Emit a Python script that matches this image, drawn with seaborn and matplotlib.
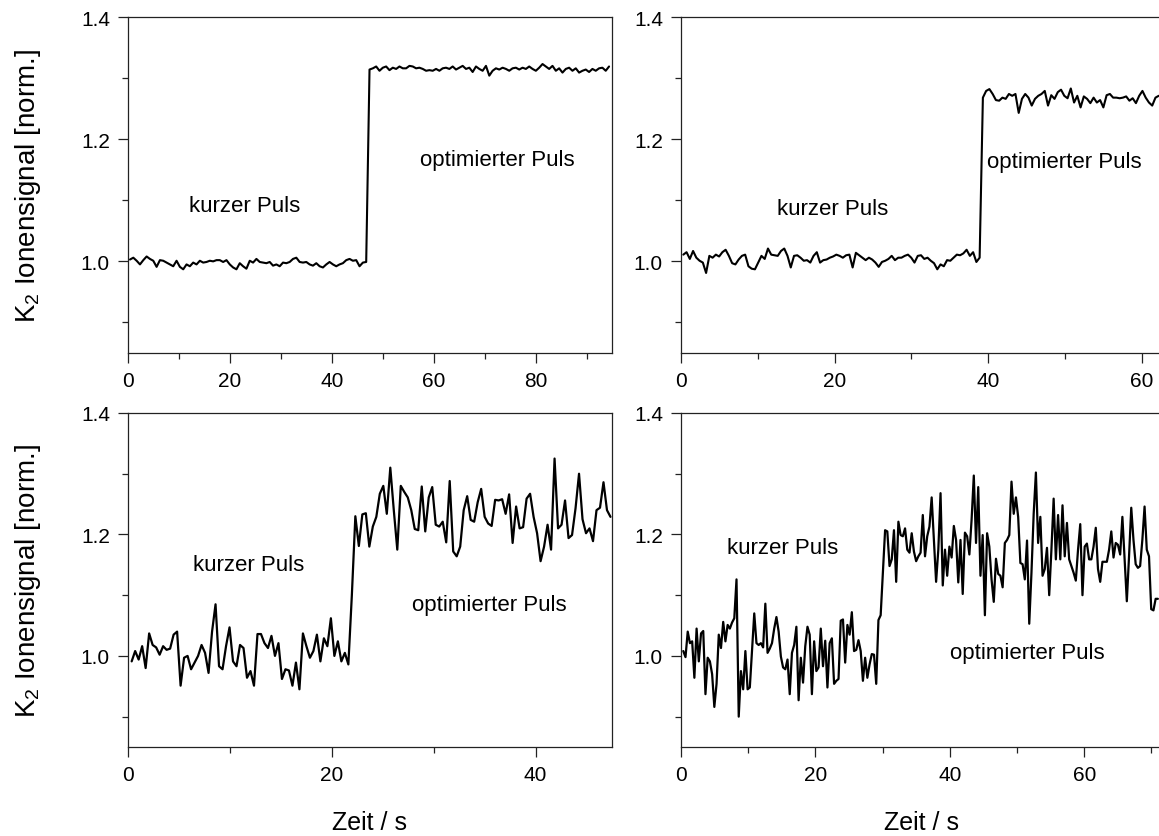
import numpy as np
import matplotlib
matplotlib.use("Agg")
import matplotlib.pyplot as plt
from matplotlib.ticker import MultipleLocator, FixedLocator
import pandas as pd
import seaborn as sns

# ---------------- data ----------------
# top-left panel: sampling start / interval [s]
tl_t0, tl_dt = 0.39, 0.653
tl_signal = [
    1.003, 1.006, 1.001, 0.995, 1.002, 1.008, 1.004, 1.001, 0.991, 1.002,
    1.001, 0.998, 0.995, 0.992, 1.001, 0.991, 0.987, 0.995, 0.992, 0.998,
    0.995, 1.001, 0.998, 0.999, 1.001, 1.000, 1.002, 1.002, 0.999, 1.002,
    0.995, 0.990, 0.987, 0.997, 0.992, 0.988, 1.001, 0.998, 1.004, 0.999,
    0.998, 0.997, 0.999, 0.993, 0.995, 0.992, 0.998, 0.997, 0.999, 1.004,
    1.006, 0.999, 0.998, 0.999, 0.995, 0.993, 0.997, 0.992, 0.990, 0.995,
    0.999, 0.995, 0.992, 0.995, 0.997, 1.002, 1.004, 1.001, 1.002, 0.992,
    0.998, 0.999,
    1.314, 1.316, 1.319, 1.312, 1.317, 1.319, 1.313, 1.317, 1.315, 1.319,
    1.316, 1.316, 1.320, 1.319, 1.316, 1.317, 1.315, 1.312, 1.313, 1.312,
    1.315, 1.312, 1.316, 1.317, 1.315, 1.319, 1.314, 1.317, 1.320, 1.315,
    1.317, 1.310, 1.319, 1.315, 1.312, 1.320, 1.304, 1.312, 1.316, 1.314,
    1.317, 1.315, 1.312, 1.316, 1.317, 1.314, 1.317, 1.315, 1.319, 1.315,
    1.312, 1.317, 1.323, 1.319, 1.315, 1.320, 1.312, 1.316, 1.309, 1.315,
    1.317, 1.312, 1.316, 1.309, 1.312, 1.314, 1.310, 1.315, 1.312, 1.316,
    1.317, 1.312, 1.319,
]

# top-right panel
tr_t0, tr_dt = 0.3, 0.424
tr_signal = [
    1.011, 1.015, 1.004, 1.017, 1.006, 1.001, 0.998, 0.981, 1.009, 1.006,
    1.011, 1.008, 1.015, 1.019, 1.009, 0.997, 0.995, 1.003, 1.009, 1.011,
    0.992, 0.988, 0.987, 0.998, 1.009, 1.004, 1.021, 1.011, 1.010, 1.009,
    1.017, 1.021, 1.009, 0.990, 1.009, 1.010, 1.006, 1.001, 1.002, 0.998,
    1.009, 1.015, 0.998, 1.002, 1.003, 1.006, 1.008, 1.011, 1.009, 1.006,
    1.010, 1.011, 0.990, 1.014, 1.010, 1.006, 1.002, 1.006, 1.003, 0.998,
    0.991, 0.999, 1.001, 1.004, 1.009, 1.002, 1.006, 1.006, 1.009, 1.011,
    1.006, 0.998,
    1.009, 1.010, 1.004, 1.006, 1.001, 0.997, 0.987, 0.995, 0.992, 1.002,
    1.001, 1.006, 1.011, 1.010, 1.013, 1.019, 1.009, 1.015, 0.999, 1.006,
    1.268, 1.279, 1.282, 1.274, 1.264, 1.263, 1.268, 1.266, 1.274, 1.271,
    1.274, 1.243, 1.266, 1.274, 1.268, 1.255, 1.266, 1.271, 1.274, 1.279,
    1.255, 1.272, 1.266, 1.277, 1.281, 1.271, 1.267, 1.283, 1.260, 1.271,
    1.252, 1.270, 1.266, 1.259, 1.268, 1.260, 1.264, 1.252, 1.272, 1.274,
    1.268, 1.268, 1.267, 1.268, 1.270, 1.263, 1.267, 1.259, 1.271, 1.279,
    1.268, 1.260, 1.255, 1.268, 1.271,
]

# bottom-left panel
bl_t0, bl_dt = 0.36, 0.343
bl_signal = [
    0.991, 1.008, 0.994, 1.016, 0.980, 1.037, 1.018, 1.014, 1.002, 1.016,
    1.010, 1.012, 1.035, 1.040, 0.951, 0.997, 1.000, 0.978, 0.989, 1.000,
    1.018, 1.005, 0.972, 1.040, 1.085, 0.983, 0.978, 1.016, 1.047, 0.991,
    0.983, 1.018, 1.013, 0.964, 0.975, 0.951, 1.036, 1.036, 1.021, 1.013,
    1.033, 1.000, 1.021, 0.962, 0.978, 0.976, 0.951, 0.989, 0.945, 1.037,
    1.016, 0.997, 1.008, 1.035, 0.991, 1.029, 1.016, 1.062, 1.000, 1.024,
    0.991, 1.005, 0.986, 1.100, 1.230, 1.181, 1.233, 1.235, 1.180,
    1.213, 1.229, 1.267, 1.280, 1.234, 1.310, 1.240, 1.175, 1.280, 1.270,
    1.261, 1.240, 1.209, 1.207, 1.279, 1.205, 1.261, 1.278, 1.216, 1.213,
    1.221, 1.187, 1.288, 1.172, 1.164, 1.180, 1.240, 1.263, 1.224, 1.221,
    1.253, 1.275, 1.229, 1.218, 1.214, 1.257, 1.256, 1.258, 1.234, 1.266,
    1.186, 1.246, 1.210, 1.212, 1.259, 1.267, 1.229, 1.202, 1.156, 1.180,
    1.216, 1.175, 1.325, 1.210, 1.216, 1.256, 1.194, 1.199, 1.243, 1.300,
    1.225, 1.202, 1.210, 1.189, 1.240, 1.244, 1.286, 1.240, 1.229,
]

# bottom-right panel
br_t0, br_dt = 0.34, 0.33
br_signal = [
    1.008, 0.998, 1.040, 1.021, 1.024, 0.964, 1.045, 0.991, 1.037, 1.041,
    0.937, 0.997, 0.991, 0.970, 0.916, 0.954, 1.035, 1.013, 1.056, 1.024,
    1.051, 1.045, 1.055, 1.062, 1.126, 0.900, 0.975, 0.945, 1.008, 0.945,
    0.948, 1.008, 1.070, 1.021, 1.018, 1.021, 1.014, 1.086, 1.005, 1.012,
    1.021, 1.045, 1.064, 1.040, 0.999, 0.981, 0.978, 0.994, 0.937, 1.005,
    1.018, 1.048, 0.927, 0.997, 0.956, 1.016, 1.048, 1.035, 0.937, 1.024,
    0.975, 0.981, 1.045, 0.983, 1.025, 0.948, 1.021, 1.029, 0.954, 0.959,
    0.962, 1.058, 1.060, 0.989, 1.051, 1.035, 1.072, 1.008, 1.010, 1.026,
    1.008, 0.959, 0.997, 0.964, 0.986, 1.003, 1.002, 0.954, 1.059, 1.067,
    1.137, 1.207, 1.205, 1.148, 1.159, 1.207, 1.122, 1.221, 1.199, 1.197,
    1.210, 1.175, 1.170, 1.202, 1.172, 1.156, 1.164, 1.170, 1.232,
    1.164, 1.197, 1.213, 1.261, 1.191, 1.122, 1.175, 1.268, 1.116, 1.175,
    1.132, 1.180, 1.162, 1.214, 1.191, 1.121, 1.191, 1.102, 1.203, 1.197,
    1.167, 1.224, 1.297, 1.186, 1.278, 1.132, 1.199, 1.067, 1.202, 1.180,
    1.126, 1.089, 1.160, 1.135, 1.132, 1.113, 1.186, 1.191, 1.199, 1.287,
    1.234, 1.261, 1.229, 1.153, 1.151, 1.126, 1.190, 1.053, 1.137, 1.234,
    1.302, 1.186, 1.229, 1.132, 1.143, 1.178, 1.100, 1.175, 1.259, 1.159,
    1.232, 1.159, 1.248, 1.164, 1.219, 1.159, 1.148, 1.137, 1.124, 1.175,
    1.217, 1.100, 1.180, 1.185, 1.159, 1.159, 1.180, 1.211, 1.143, 1.122,
    1.155, 1.155, 1.155, 1.175, 1.205, 1.162, 1.186, 1.183, 1.167, 1.229,
    1.159, 1.090, 1.164, 1.244, 1.191, 1.151, 1.145, 1.148, 1.191, 1.246,
    1.175, 1.164, 1.077, 1.075, 1.094, 1.094,
]

x_tick_labels = ["0", "20", "40", "60", "80"]
y_tick_labels = ["1.0", "1.2", "1.4"]
label_short = "kurzer Puls"
label_opt = "optimierter Puls"
x_title = "Zeit / s"
y_title = "K$_\\mathregular{2}$ Ionensignal [norm.]"

# ---------------- style ----------------
sns.set_theme(style="ticks")
plt.rcParams['font.family'] = ['Liberation Sans', 'DejaVu Sans']
plt.rcParams['mathtext.fontset'] = 'custom'
plt.rcParams['mathtext.rm'] = 'Liberation Sans'
plt.rcParams['mathtext.it'] = 'Liberation Sans:italic'
plt.rcParams['text.color'] = 'black'
plt.rcParams['xtick.labelcolor'] = 'black'
plt.rcParams['ytick.labelcolor'] = 'black'

W, H = 1159, 837
fig = plt.figure(figsize=(W / 100, H / 100), dpi=100)
fig.patch.set_facecolor("white")


def px_axes(left, top, right, bottom):
    return fig.add_axes([left / W, 1 - bottom / H, (right - left) / W, (bottom - top) / H])


panels = [
    # (signal, t0, dt, box, xmax, lw, annotations)
    (tl_signal, tl_t0, tl_dt, (128, 18, 612, 354), 95.0, 1.5,
     [(22.9, 1.092, label_short, "center"), (72.5, 1.167, label_opt, "center")]),
    (tr_signal, tr_t0, tr_dt, (681, 18, 1161, 354), 62.5, 1.5,
     [(19.8, 1.087, label_short, "center"), (39.8, 1.164, label_opt, "left")]),
    (bl_signal, bl_t0, bl_dt, (128, 414, 612, 748), 47.5, 1.6,
     [(11.8, 1.151, label_short, "center"), (35.5, 1.084, label_opt, "center")]),
    (br_signal, br_t0, br_dt, (681, 414, 1161.5, 748), 71.5, 1.6,
     [(15.1, 1.178, label_short, "center"), (51.6, 1.005, label_opt, "center")]),
]

for sig, t0, dt, box, xmax, lw, notes in panels:
    ax = px_axes(*box)
    t = t0 + dt * np.arange(len(sig))
    df = pd.DataFrame({"t": t, "v": sig})
    sns.lineplot(data=df, x="t", y="v", ax=ax, color="black", linewidth=lw,
                 estimator=None, sort=False)
    ax.set_xlim(0, xmax)
    ax.set_ylim(0.85, 1.4)
    n_x = int(xmax // 20) + 1
    ax.set_xticks([0, 20, 40, 60, 80][:n_x])
    ax.set_xticklabels(x_tick_labels[:n_x])
    ax.xaxis.set_minor_locator(MultipleLocator(10))
    ax.set_yticks([1.0, 1.2, 1.4])
    ax.set_yticklabels(y_tick_labels)
    ax.yaxis.set_minor_locator(FixedLocator([0.9, 1.1, 1.3]))
    ax.set_xlabel("")
    ax.set_ylabel("")
    for s in ax.spines.values():
        s.set_visible(True)
        s.set_linewidth(0.9)
        s.set_color("#222222")
    ax.tick_params(which="major", direction="out", length=7, width=0.9,
                   color="#222222", labelcolor="black", labelsize=15, pad=6,
                   top=False, right=False)
    ax.tick_params(which="minor", direction="out", length=4, width=0.9,
                   color="#222222", top=False, right=False)
    for x, y, txt, ha in notes:
        ax.text(x, y, txt, ha=ha, va="center", fontsize=16, color="black")

# axis titles
fig.text(28 / W, 1 - 186 / H, y_title, rotation=90, ha="center", va="center",
         fontsize=20, color="black")
fig.text(28 / W, 1 - 581 / H, y_title, rotation=90, ha="center", va="center",
         fontsize=20, color="black")
fig.text(370 / W, 1 - 823 / H, x_title, ha="center", va="center", fontsize=18,
         color="black")
fig.text(921 / W, 1 - 823 / H, x_title, ha="center", va="center", fontsize=18,
         color="black")

fig.savefig("out.png", dpi=100, facecolor="white")
